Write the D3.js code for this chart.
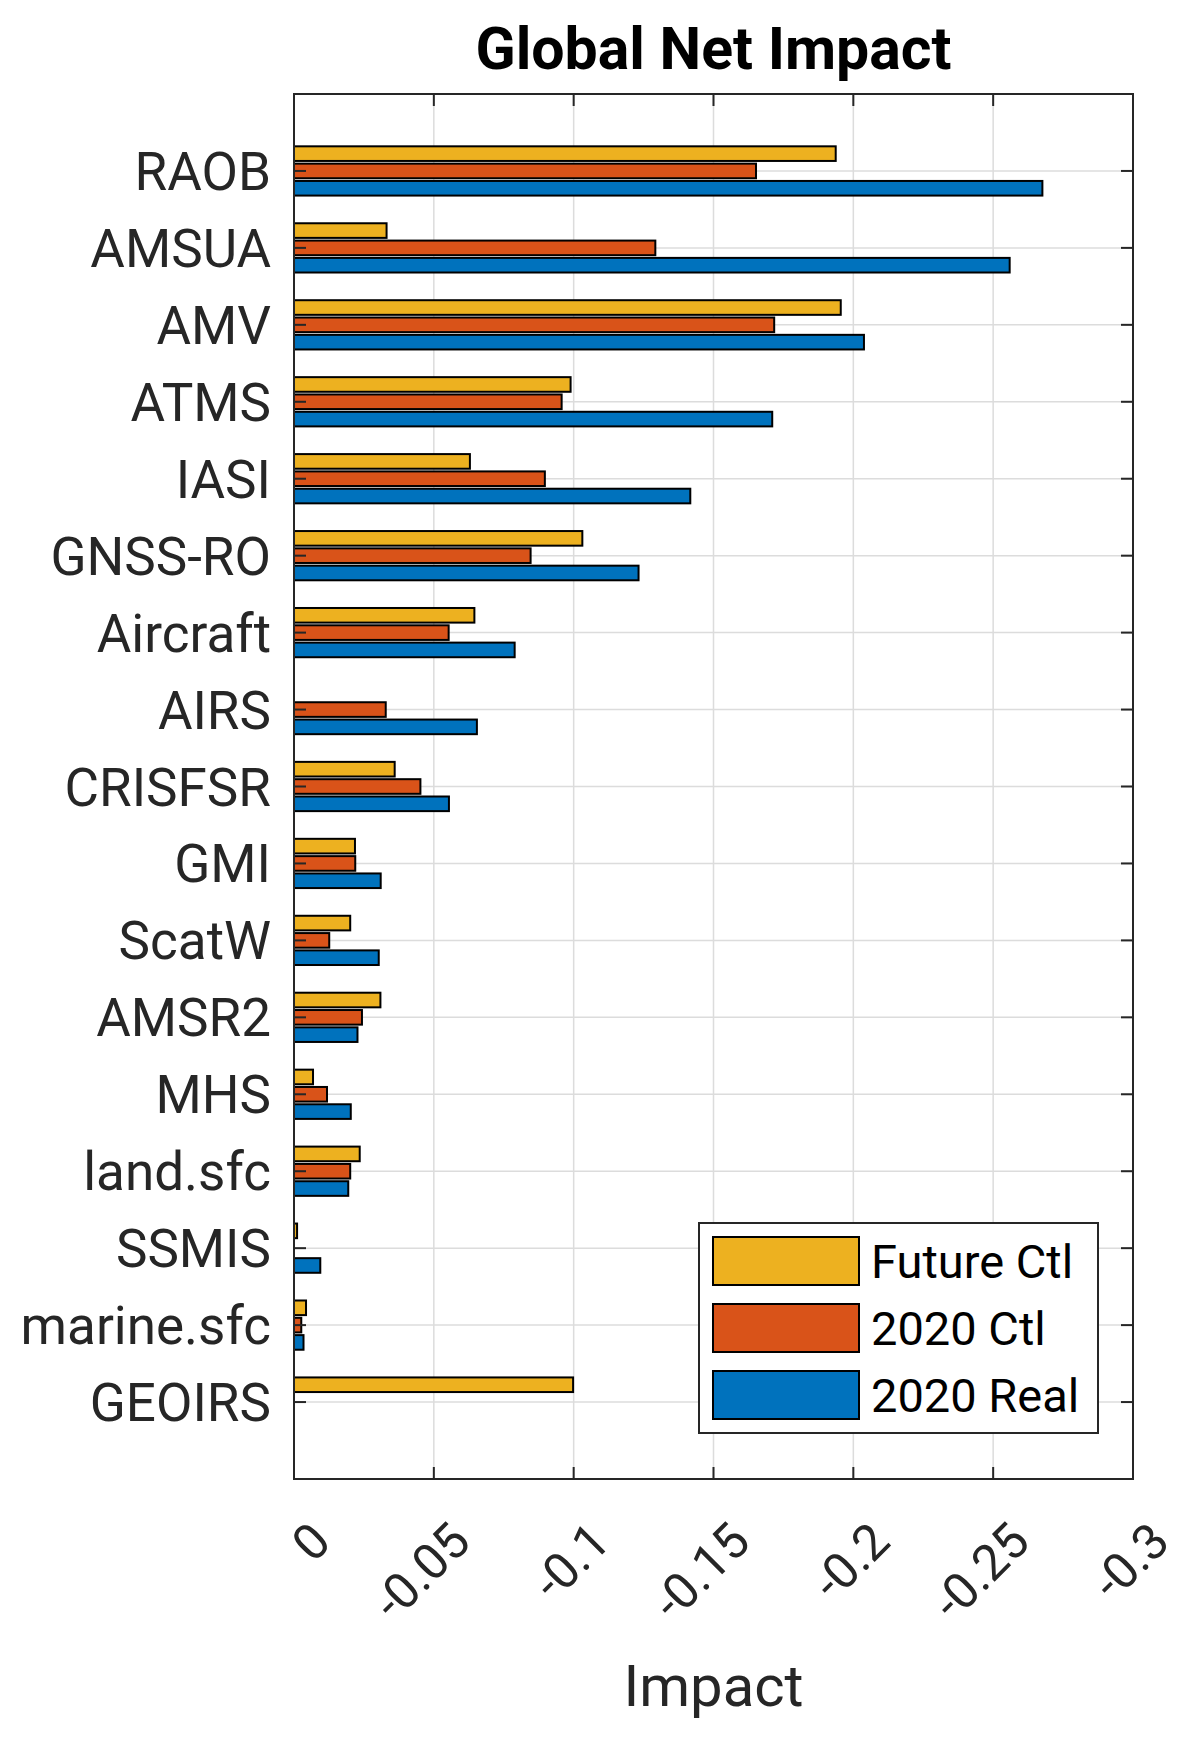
<!DOCTYPE html>
<html>
<head>
<meta charset="utf-8">
<script src="https://cdn.jsdelivr.net/npm/d3@7"></script>
<style>
  body { margin: 0; background: #fff; }
  text { font-family: Roboto, "Noto Sans", sans-serif; }
</style>
</head>
<body>
<div id="chart"></div>
<script>
/* Global Net Impact - grouped horizontal bars */

const categories = ['RAOB', 'AMSUA', 'AMV', 'ATMS', 'IASI', 'GNSS-RO', 'Aircraft', 'AIRS',
  'CRISFSR', 'GMI', 'ScatW', 'AMSR2', 'MHS', 'land.sfc', 'SSMIS', 'marine.sfc', 'GEOIRS']

const seriesNames = ['Future Ctl', '2020 Ctl', '2020 Real']
const seriesColors = ['#EDB120', '#D95319', '#0072BD']

const futureCtl = [-0.1937, -0.0331, -0.1955, -0.0989, -0.0629, -0.1031, -0.0645, 0,
  -0.0360, -0.0218, -0.0201, -0.0309, -0.0068, -0.0235, -0.0011, -0.0043, -0.0998]
const ctl2020 = [-0.1652, -0.1292, -0.1717, -0.0957, -0.0897, -0.0846, -0.0553, -0.0328,
  -0.0452, -0.0219, -0.0126, -0.0243, -0.0118, -0.0201, 0, -0.0026, 0]
const real2020 = [-0.2676, -0.2559, -0.2038, -0.1710, -0.1417, -0.1232, -0.0789, -0.0654,
  -0.0554, -0.0310, -0.0303, -0.0227, -0.0203, -0.0194, -0.0094, -0.0034, 0]

const xTicks = [0, -0.05, -0.1, -0.15, -0.2, -0.25, -0.3]
const xTickLabels = ['0', '-0.05', '-0.1', '-0.15', '-0.2', '-0.25', '-0.3']

const allSeries = [futureCtl, ctl2020, real2020]

const width = 1200
const height = 1740
const plot = { left: 294, top: 94, right: 1133, bottom: 1479 }
const axisColor = '#262626'
const tickLen = 12

const svg = d3.select('#chart').append('svg')
  .attr('width', width)
  .attr('height', height)

// x axis reversed: 0 on the left, -0.3 on the right
const x = d3.scaleLinear().domain([0, -0.3]).range([plot.left, plot.right])
// categories sit at 1..17 inside [0, 18]
const y = d3.scaleLinear().domain([0, 18]).range([plot.top, plot.bottom])

const barH = 0.19
const barStep = 0.225

// grid
const grid = svg.append('g')
grid.selectAll('line.vg').data(xTicks.slice(1, -1)).enter().append('line')
  .attr('x1', d => x(d)).attr('x2', d => x(d))
  .attr('y1', plot.top).attr('y2', plot.bottom)
  .attr('stroke', '#dcdcdc').attr('stroke-width', 1.5)
grid.selectAll('line.hg').data(categories).enter().append('line')
  .attr('x1', plot.left).attr('x2', plot.right)
  .attr('y1', (d, i) => y(i + 1)).attr('y2', (d, i) => y(i + 1))
  .attr('stroke', '#dcdcdc').attr('stroke-width', 1.5)

// bars
allSeries.forEach((vals, s) => {
  svg.append('g').selectAll('rect')
    .data(vals.map((v, i) => ({ v, i })).filter(d => d.v !== 0))
    .enter().append('rect')
    .attr('x', x(0))
    .attr('width', d => x(d.v) - x(0))
    .attr('y', d => y(d.i + 1 + (s - 1) * barStep - barH / 2))
    .attr('height', y(barH) - y(0))
    .attr('fill', seriesColors[s])
    .attr('stroke', '#000')
    .attr('stroke-width', 2)
})

// box + ticks
const ax = svg.append('g')
ax.append('rect')
  .attr('x', plot.left).attr('y', plot.top)
  .attr('width', plot.right - plot.left).attr('height', plot.bottom - plot.top)
  .attr('fill', 'none').attr('stroke', axisColor).attr('stroke-width', 2)

xTicks.forEach(t => {
  ax.append('line').attr('x1', x(t)).attr('x2', x(t))
    .attr('y1', plot.bottom).attr('y2', plot.bottom - tickLen)
    .attr('stroke', axisColor).attr('stroke-width', 2)
  ax.append('line').attr('x1', x(t)).attr('x2', x(t))
    .attr('y1', plot.top).attr('y2', plot.top + tickLen)
    .attr('stroke', axisColor).attr('stroke-width', 2)
})
categories.forEach((c, i) => {
  ax.append('line').attr('x1', plot.left).attr('x2', plot.left + tickLen)
    .attr('y1', y(i + 1)).attr('y2', y(i + 1))
    .attr('stroke', axisColor).attr('stroke-width', 2)
  ax.append('line').attr('x1', plot.right).attr('x2', plot.right - tickLen)
    .attr('y1', y(i + 1)).attr('y2', y(i + 1))
    .attr('stroke', axisColor).attr('stroke-width', 2)
})

// y labels
svg.append('g').selectAll('text').data(categories).enter().append('text')
  .attr('x', plot.left - 23)
  .attr('y', (d, i) => y(i + 1) + 1)
  .attr('text-anchor', 'end')
  .attr('dominant-baseline', 'central')
  .attr('font-size', 53)
  .attr('fill', axisColor)
  .text(d => d)

// x labels, rotated
svg.append('g').selectAll('text').data(xTicks).enter().append('text')
  .attr('transform', d => `translate(${x(d) + 27},${plot.bottom + 53}) rotate(-45)`)
  .attr('text-anchor', 'end')
  .attr('dominant-baseline', 'central')
  .attr('font-size', 50)
  .attr('fill', axisColor)
  .text((d, i) => xTickLabels[i])

svg.append('text')
  .attr('x', (plot.left + plot.right) / 2)
  .attr('y', 1706)
  .attr('text-anchor', 'middle')
  .attr('font-size', 58)
  .attr('fill', axisColor)
  .text('Impact')

svg.append('text')
  .attr('x', (plot.left + plot.right) / 2)
  .attr('y', 69)
  .attr('text-anchor', 'middle')
  .attr('font-size', 59)
  .attr('font-weight', 'bold')
  .attr('fill', '#000')
  .text('Global Net Impact')

// legend
const lg = svg.append('g').attr('transform', 'translate(699,1223)')
lg.append('rect')
  .attr('width', 399).attr('height', 210)
  .attr('fill', '#fff').attr('stroke', axisColor).attr('stroke-width', 2)
seriesNames.forEach((name, s) => {
  const cy = 38 + s * 67
  lg.append('rect')
    .attr('x', 14).attr('y', cy - 24)
    .attr('width', 146).attr('height', 48)
    .attr('fill', seriesColors[s]).attr('stroke', '#000').attr('stroke-width', 2)
  lg.append('text')
    .attr('x', 172).attr('y', cy)
    .attr('dominant-baseline', 'central')
    .attr('font-size', 47)
    .attr('fill', '#000')
    .text(name)
})
</script>
</body>
</html>
